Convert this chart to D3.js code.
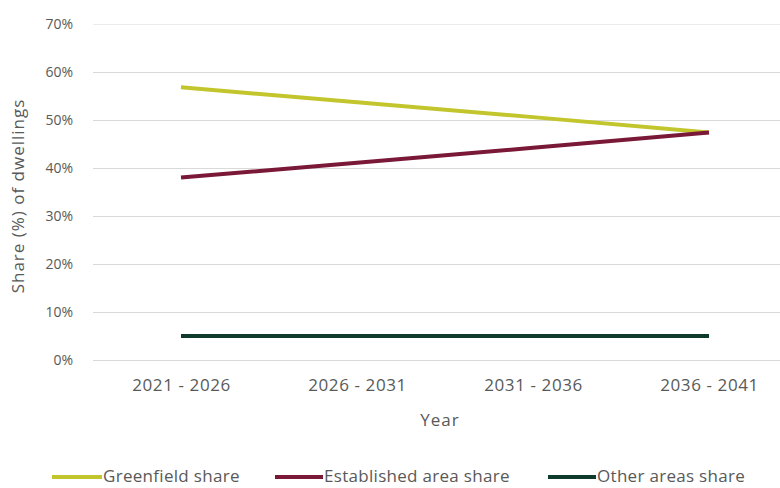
<!DOCTYPE html>
<html>
<head>
<meta charset="utf-8">
<script src="https://cdn.jsdelivr.net/npm/d3@7/dist/d3.min.js"></script>
<style>
  html, body { margin: 0; padding: 0; background: #fff; }
  svg { display: block; font-family: "Open Sans", "Liberation Sans", sans-serif; }
</style>
</head>
<body>
<svg id="chart" width="780" height="488"></svg>
<script>
// Dwelling share by location, five-year periods
const periods = ["2021 - 2026", "2026 - 2031", "2031 - 2036", "2036 - 2041"];
const greenfield = [56.8, 53.7, 50.6, 47.4];
const established = [38.0, 41.1, 44.2, 47.4];
const otherAreas = [5.0, 5.0, 5.0, 5.0];
const yTicks = [0, 10, 20, 30, 40, 50, 60, 70];
const seriesNames = ["Greenfield share", "Established area share", "Other areas share"];
const seriesColors = ["#c2c62c", "#7a1838", "#0e3b2c"];

const series = [greenfield, established, otherAreas].map((values, i) => ({
  name: seriesNames[i],
  color: seriesColors[i],
  values: values
}));

const svg = d3.select("#chart");
const margin = { left: 93, right: -17, top: 24, bottom: 128 };
const W = 780, H = 488;
const textColor = "#595959";

const x = d3.scalePoint()
  .domain(periods)
  .range([margin.left, W - margin.right])
  .padding(0.5);

const y = d3.scaleLinear()
  .domain([0, 70])
  .range([H - margin.bottom, margin.top]);

// Horizontal gridlines
const grid = svg.append("g");
grid.selectAll("line")
  .data(yTicks)
  .join("line")
  .attr("x1", margin.left)
  .attr("x2", W)
  .attr("y1", d => y(d) + 0.5)
  .attr("y2", d => y(d) + 0.5)
  .attr("stroke", d => d === 70 ? "#ececec" : "#d9d9d9")
  .attr("stroke-width", 1);

// Y axis labels
const yAxis = svg.append("g")
  .attr("transform", `translate(${margin.left - 20},0)`)
  .call(d3.axisLeft(y).tickValues(yTicks).tickFormat(d => d + "%").tickSize(0).tickPadding(0));
yAxis.select(".domain").remove();
yAxis.selectAll("text")
  .attr("fill", textColor)
  .style("font-size", "14px")
  .style("font-family", "\"Open Sans\", sans-serif");

// X axis labels
const xAxis = svg.append("g")
  .attr("transform", `translate(0,${H - margin.bottom})`)
  .call(d3.axisBottom(x).tickSize(0).tickPadding(19));
xAxis.select(".domain").remove();
xAxis.selectAll("text")
  .attr("fill", textColor)
  .style("font-size", "17px")
  .style("letter-spacing", "0.6px")
  .style("font-family", "\"Open Sans\", sans-serif");

// Axis titles
svg.append("text")
  .attr("x", 440)
  .attr("y", 426)
  .attr("text-anchor", "middle")
  .attr("fill", textColor)
  .style("font-size", "17px")
  .style("letter-spacing", "1px")
  .text("Year");

svg.append("text")
  .attr("transform", "translate(24,196) rotate(-90)")
  .attr("text-anchor", "middle")
  .attr("fill", textColor)
  .style("font-size", "17px")
  .style("letter-spacing", "1px")
  .text("Share (%) of dwellings");

// Series lines
const line = d3.line()
  .x((d, i) => x(periods[i]))
  .y(d => y(d));

svg.append("g")
  .selectAll("path")
  .data(series)
  .join("path")
  .attr("d", d => line(d.values))
  .attr("fill", "none")
  .attr("stroke", d => d.color)
  .attr("stroke-width", 4)
  .attr("stroke-linecap", "butt");

// Legend
const legendItems = [
  { x0: 52, x1: 102 },
  { x0: 275, x1: 323 },
  { x0: 548, x1: 596 }
];
const legend = svg.append("g").attr("transform", "translate(0,477)");
const items = legend.selectAll("g")
  .data(series)
  .join("g")
  .attr("transform", (d, i) => `translate(${legendItems[i].x0},0)`);
items.append("line")
  .attr("x1", 0)
  .attr("x2", (d, i) => legendItems[i].x1 - legendItems[i].x0)
  .attr("y1", 0)
  .attr("y2", 0)
  .attr("stroke", d => d.color)
  .attr("stroke-width", 4);
items.append("text")
  .attr("x", (d, i) => legendItems[i].x1 - legendItems[i].x0 + 1)
  .attr("y", 5)
  .attr("fill", textColor)
  .style("font-size", "17px")
  .style("letter-spacing", "0.3px")
  .text(d => d.name);
</script>
</body>
</html>
